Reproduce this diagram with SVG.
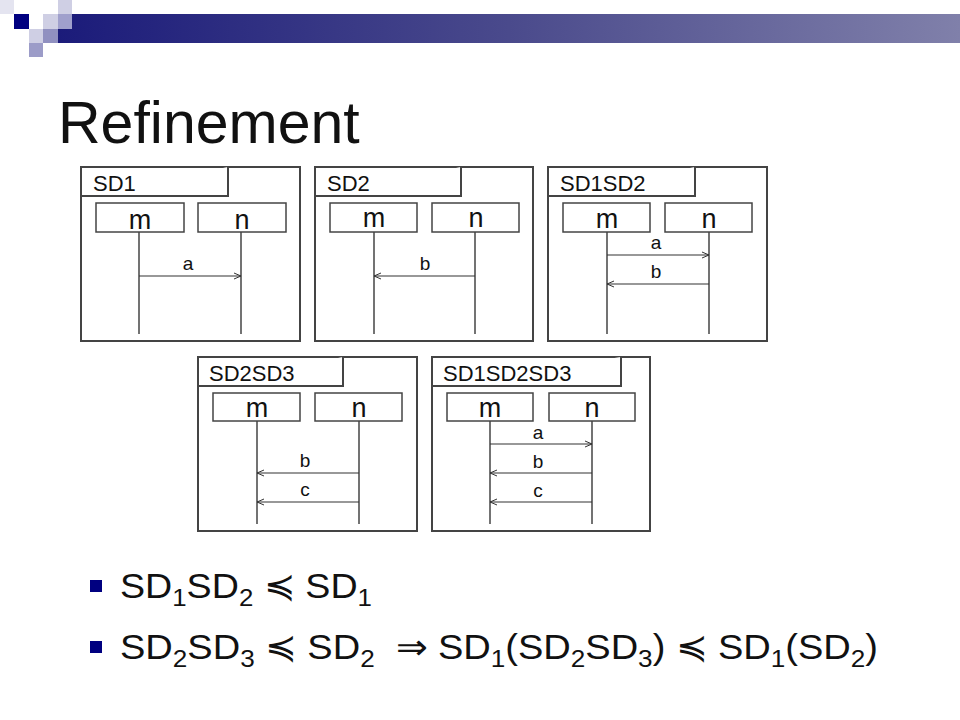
<svg xmlns="http://www.w3.org/2000/svg" width="960" height="720" viewBox="0 0 960 720">
<defs>
<linearGradient id="bar" x1="0" x2="1" y1="0" y2="0"><stop offset="0" stop-color="#1b1b7a"/><stop offset="0.5" stop-color="#4a4a8c"/><stop offset="1" stop-color="#8080aa"/></linearGradient>
<marker id="ar" markerWidth="8" markerHeight="8" refX="7" refY="4" orient="auto" markerUnits="userSpaceOnUse"><path d="M0,1 L7,4 L0,7" fill="none" stroke="#333" stroke-width="1"/></marker>
</defs>
<style>
.f{fill:#fff;stroke:#444;stroke-width:2}
.b{fill:#fff;stroke:#444;stroke-width:1.5}
.l{stroke:#444;stroke-width:1.5}
.m{stroke:#333;stroke-width:1.2;marker-end:url(#ar)}
.t{font-family:"Liberation Sans",Arial,sans-serif;fill:#111}
.tt{font-size:22px}.nm{font-size:27px;text-anchor:middle}.ml{font-size:19px;text-anchor:middle}
.bt{font-size:35px}
</style>
<rect width="960" height="720" fill="#fff"/>
<g id="deco">
<rect x="58" y="14" width="902" height="29" fill="url(#bar)"/>
<rect x="0" y="0" width="14" height="14" fill="#e4e4f0"/>
<rect x="14" y="14" width="15" height="15" fill="#000080"/>
<rect x="43" y="14" width="15" height="15" fill="#cfcfe4"/>
<rect x="58" y="0" width="14" height="14" fill="#cfcfe4"/>
<rect x="58" y="14" width="14" height="15" fill="#a0a0cc"/>
<rect x="29" y="29" width="14" height="14" fill="#cfcfe4"/>
<rect x="43" y="29" width="15" height="14" fill="#9090c0"/>
<rect x="29" y="43" width="14" height="14" fill="#9c9cc8"/>
</g>
<text class="t" x="58" y="143" font-size="59">Refinement</text>
<g id="SD1">
<rect class="f" x="81" y="167" width="219" height="174"/>
<path class="f" d="M81,196 H228 V167" fill="none"/>
<text class="t tt" x="93" y="191">SD1</text>
<rect class="b" x="96" y="203" width="88" height="29"/><text class="t nm" x="140" y="229">m</text>
<rect class="b" x="198" y="203" width="88" height="29"/><text class="t nm" x="242" y="229">n</text>
<line class="l" x1="139" y1="232" x2="139" y2="334"/><line class="l" x1="241" y1="232" x2="241" y2="334"/>
</g>
<g id="SD2">
<rect class="f" x="315" y="167" width="218" height="174"/>
<path class="f" d="M315,196 H461 V167" fill="none"/>
<text class="t tt" x="327" y="191">SD2</text>
<rect class="b" x="330" y="203" width="87" height="29"/><text class="t nm" x="374" y="227">m</text>
<rect class="b" x="432" y="203" width="87" height="29"/><text class="t nm" x="476" y="227">n</text>
<line class="l" x1="374" y1="232" x2="374" y2="334"/><line class="l" x1="475" y1="232" x2="475" y2="334"/>
</g>
<g id="SD1SD2">
<rect class="f" x="548" y="167" width="219" height="174"/>
<path class="f" d="M548,196 H695 V167" fill="none"/>
<text class="t tt" x="560" y="191">SD1SD2</text>
<rect class="b" x="563" y="203" width="87" height="29"/><text class="t nm" x="607" y="228">m</text>
<rect class="b" x="665" y="203" width="87" height="29"/><text class="t nm" x="709" y="228">n</text>
<line class="l" x1="607" y1="232" x2="607" y2="334"/><line class="l" x1="709" y1="232" x2="709" y2="334"/>
</g>
<g id="SD2SD3">
<rect class="f" x="198" y="357" width="219" height="174"/>
<path class="f" d="M198,386 H343 V357" fill="none"/>
<text class="t tt" x="209" y="381">SD2SD3</text>
<rect class="b" x="213" y="393" width="87" height="28"/><text class="t nm" x="257" y="417">m</text>
<rect class="b" x="315" y="393" width="87" height="28"/><text class="t nm" x="359" y="417">n</text>
<line class="l" x1="257" y1="421" x2="257" y2="524"/><line class="l" x1="359" y1="421" x2="359" y2="524"/>
</g>
<g id="SD1SD2SD3">
<rect class="f" x="432" y="357" width="218" height="174"/>
<path class="f" d="M432,386 H621 V357" fill="none"/>
<text class="t tt" x="443" y="381">SD1SD2SD3</text>
<rect class="b" x="447" y="393" width="86" height="28"/><text class="t nm" x="490" y="417">m</text>
<rect class="b" x="549" y="393" width="86" height="28"/><text class="t nm" x="592" y="417">n</text>
<line class="l" x1="490" y1="421" x2="490" y2="524"/><line class="l" x1="592" y1="421" x2="592" y2="524"/>
</g>
<g id="connectors">
<line class="m" x1="139" y1="276" x2="241" y2="276"/><text class="t ml" x="188" y="270">a</text>
<line class="m" x1="475" y1="276" x2="374" y2="276"/><text class="t ml" x="425" y="270">b</text>
<line class="m" x1="607" y1="255" x2="709" y2="255"/><text class="t ml" x="656" y="249">a</text>
<line class="m" x1="709" y1="284" x2="607" y2="284"/><text class="t ml" x="656" y="278">b</text>
<line class="m" x1="359" y1="473" x2="257" y2="473"/><text class="t ml" x="305" y="467">b</text>
<line class="m" x1="359" y1="502" x2="257" y2="502"/><text class="t ml" x="305" y="496">c</text>
<line class="m" x1="490" y1="444" x2="592" y2="444"/><text class="t ml" x="538" y="439">a</text>
<line class="m" x1="592" y1="473" x2="490" y2="473"/><text class="t ml" x="538" y="468">b</text>
<line class="m" x1="592" y1="502" x2="490" y2="502"/><text class="t ml" x="538" y="497">c</text>
</g>
<g id="bullets">
<rect x="90" y="580" width="12" height="12" fill="#000080"/>
<rect x="90" y="641" width="12" height="12" fill="#000080"/>
<text class="t bt" x="120" y="598" textLength="252" lengthAdjust="spacingAndGlyphs">SD<tspan font-size="24" dy="8">1</tspan><tspan dy="-8">SD</tspan><tspan font-size="24" dy="8">2</tspan><tspan dy="-8"> ≼ SD</tspan><tspan font-size="24" dy="8">1</tspan></text>
<text class="t bt" x="120" y="659" textLength="758" lengthAdjust="spacingAndGlyphs">SD<tspan font-size="24" dy="8">2</tspan><tspan dy="-8">SD</tspan><tspan font-size="24" dy="8">3</tspan><tspan dy="-8"> ≼ SD</tspan><tspan font-size="24" dy="8">2</tspan><tspan dy="-8">&#160; ⇒ SD</tspan><tspan font-size="24" dy="8">1</tspan><tspan dy="-8">(SD</tspan><tspan font-size="24" dy="8">2</tspan><tspan dy="-8">SD</tspan><tspan font-size="24" dy="8">3</tspan><tspan dy="-8">) ≼ SD</tspan><tspan font-size="24" dy="8">1</tspan><tspan dy="-8">(SD</tspan><tspan font-size="24" dy="8">2</tspan><tspan dy="-8">)</tspan></text>
</g>
</svg>
